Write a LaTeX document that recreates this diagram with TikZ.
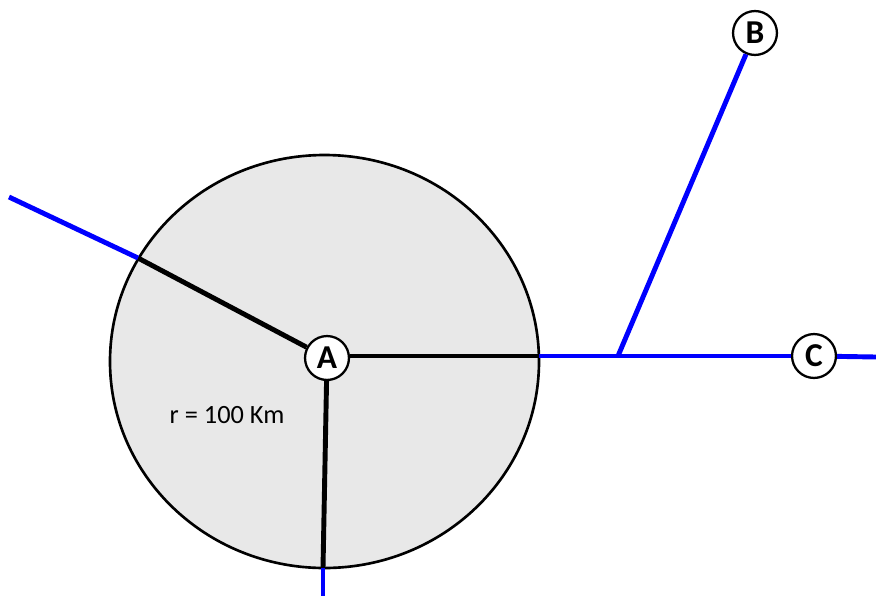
\documentclass[tikz,border=0pt]{standalone}
\usepackage{fontspec}
\setmainfont{Carlito}
\begin{document}
\begin{tikzpicture}[
  x=0.02cm, y=-0.02cm,
  stn/.style={circle,draw,line width=1.3pt,fill=white,minimum size=25pt,inner sep=0pt,font=\fontsize{19}{19}\selectfont\bfseries},
  road/.style={blue,line width=2.8pt},
  link/.style={black,line width=2.8pt},
  lbl/.style={font=\fontsize{15}{15}\selectfont},
]
\useasboundingbox (0,0) rectangle (876,596);

% ----- service area -----
\draw[fill=gray!18,line width=1.5pt] (324.5,361.5) ellipse [x radius=214.5, y radius=206.5];
\node[lbl] (rad) at (227,415) {r = 100 Km};

% ----- stations -----
\node[stn] (A) at (327,358) {A};
\node[stn] (B) at (755,33) {B};
\node[stn] (C) at (814,356) {C};

% ----- road ends and junctions -----
\coordinate (w)  at (9,197);
\coordinate (pw) at (138,258);
\coordinate (pe) at (539,356);
\coordinate (j)  at (618,356);
\coordinate (ps) at (323,568);
\coordinate (s)  at (323,596);
\coordinate (e)  at (876,357);

% ----- links inside the area -----
\draw[link] (pw) -- (A);
\draw[link] (A.east |- pe) -- (pe);
\draw[link] (A) -- (ps);

% ----- roads -----
\draw[road] (w) -- (pw);
\draw[road] (pe) -- (C);
\draw[road] (C) -- (e);
\draw[road] (j) -- (B);
\draw[road] (ps) -- (s);
\end{tikzpicture}
\end{document}
